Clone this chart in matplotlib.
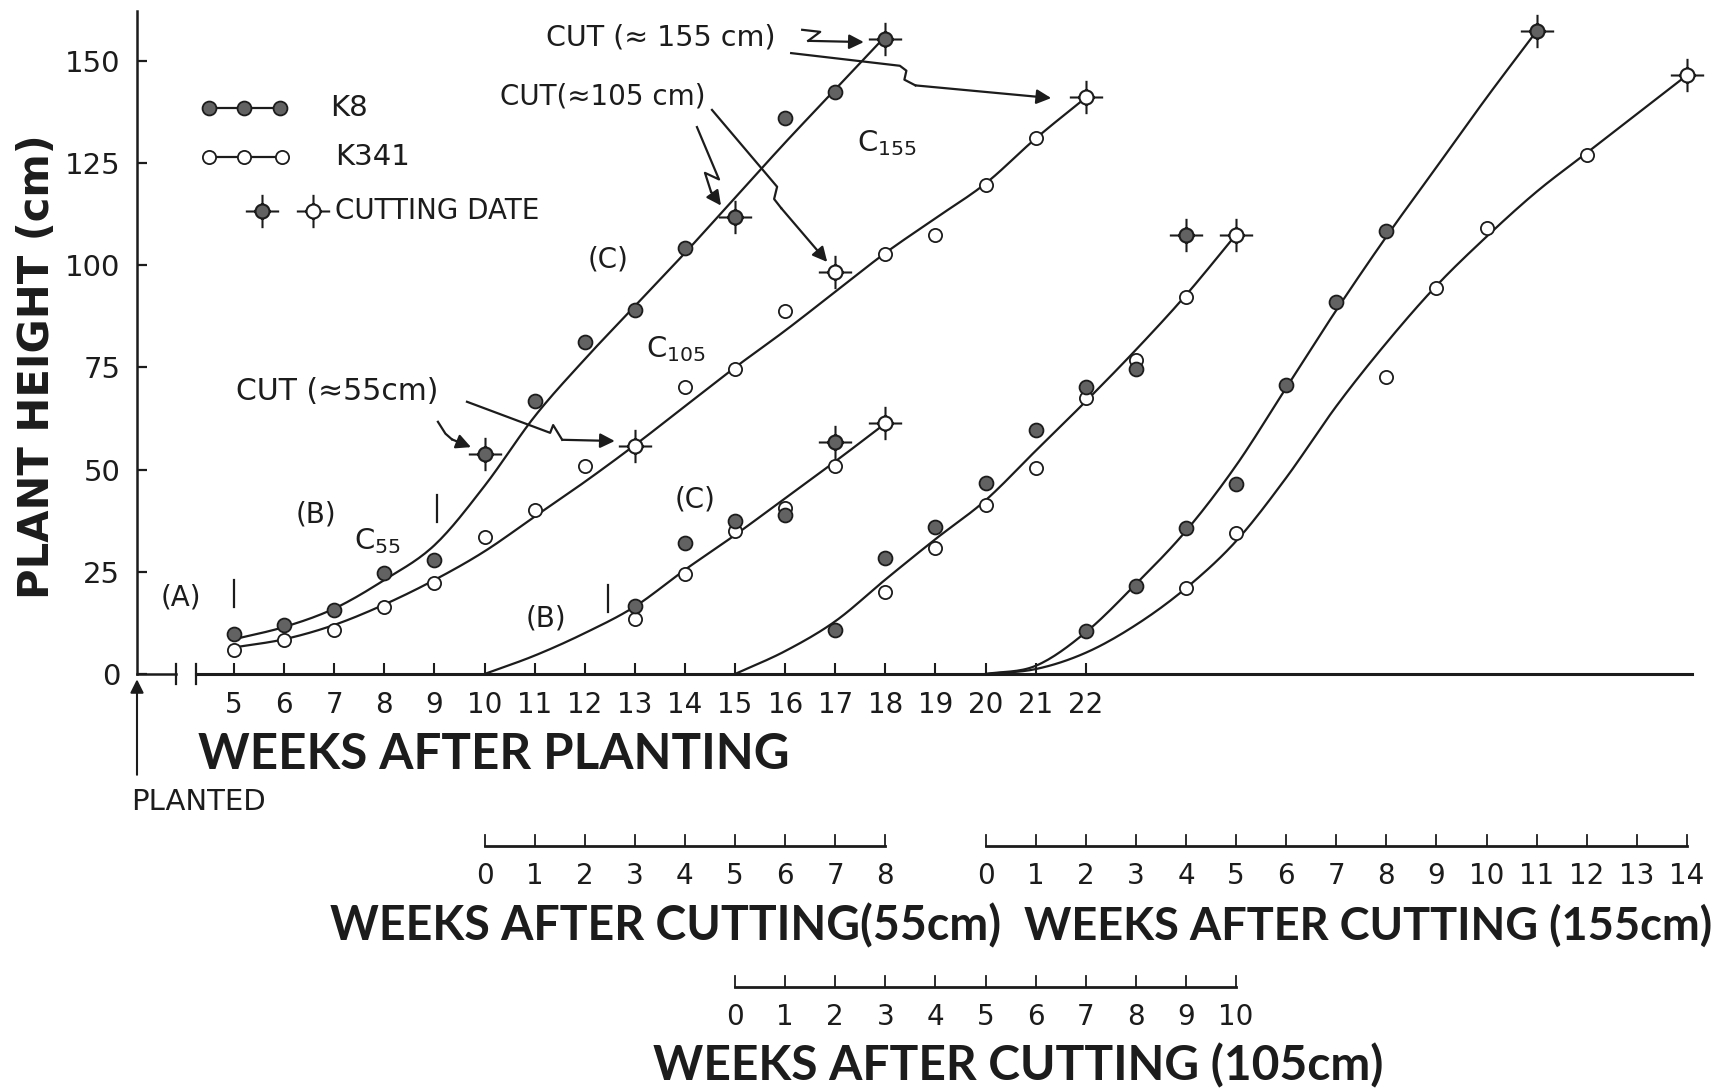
import numpy as np
import matplotlib
matplotlib.use("Agg")
import matplotlib.pyplot as plt
from matplotlib.path import Path

# ---- growth from planting (weeks after planting, height cm) ----
k8_weeks = [5, 6, 7, 8, 9, 11, 12, 13, 14, 16, 17]
k8_height = [9.7, 12.1, 15.6, 24.7, 28.0, 66.9, 81.2, 89.0, 104.3, 136.0, 142.5]
k8_cut_weeks = [10, 15, 18]
k8_cut_height = [53.8, 111.8, 155.4]

k341_weeks = [5, 6, 7, 8, 9, 10, 11, 12, 14, 15, 16, 18, 19, 20, 21]
k341_height = [5.9, 8.3, 10.8, 16.4, 22.3, 33.6, 40.0, 51.0, 70.2, 74.7, 88.7,
               102.7, 107.3, 119.6, 131.2]
k341_cut_weeks = [13, 17, 22]
k341_cut_height = [55.9, 98.4, 141.1]

# hand-fitted curves
k8_fit_weeks = list(range(5, 19))
k8_fit = [8.5, 11.5, 16, 23, 31.5, 46, 63, 77, 90, 103, 116.5, 130, 143, 156]
k341_fit_weeks = list(range(5, 23))
k341_fit = [6.5, 8.5, 12, 17, 23, 30, 38.5, 47, 56, 65.5, 75, 84, 93.5, 103,
            111.5, 120, 131, 141]

# ---- regrowth after cutting at ~55 cm (week 10 = 0) ----
c55_start = 10
c55_k8_wk = [3, 4, 5, 6]
c55_k8 = [16.7, 32.0, 37.4, 39.0]
c55_k8_cut = (7, 56.7)
c55_k341_wk = [3, 4, 5, 6, 7]
c55_k341 = [13.4, 24.5, 35.0, 40.6, 51.0]
c55_k341_cut = (8, 61.3)
c55_fit_wk = list(range(0, 9))
c55_fit = [0, 4.5, 10, 16.5, 25.5, 34, 43, 52, 61.3]

# ---- regrowth after cutting at ~105 cm (week 15 = 0) ----
c105_start = 15
c105_k8_wk = [2, 3, 4, 5, 6, 7, 8]
c105_k8 = [10.8, 28.4, 36.0, 46.7, 59.7, 70.2, 74.7]
c105_k8_cut = (9, 107.5)
c105_k341_wk = [3, 4, 5, 6, 7, 8, 9]
c105_k341 = [20.1, 30.8, 41.3, 50.4, 67.5, 76.9, 92.2]
c105_k341_cut = (10, 107.5)
c105_fit_wk = list(range(0, 11))
c105_fit = [0, 5.6, 12.9, 23.1, 33, 42.5, 54.6, 66.7, 79.3, 92.7, 107.5]

# ---- regrowth after cutting at ~155 cm (week 20 = 0) ----
c155_start = 20
c155_k8_wk = [2, 3, 4, 5, 6, 7, 8]
c155_k8 = [10.5, 21.5, 35.8, 46.5, 70.7, 90.9, 108.3]
c155_k8_cut = (11, 157.3)
c155_k341_wk = [4, 5, 8, 9, 10, 12]
c155_k341 = [21.0, 34.4, 72.6, 94.4, 109.0, 127.0]
c155_k341_cut = (14, 146.5)
c155_k8_fit_wk = list(range(0, 12))
c155_k8_fit = [0, 2, 10.2, 22, 35, 51, 70, 89, 107, 124, 141, 157.3]
c155_k341_fit_wk = list(range(0, 15))
c155_k341_fit = [0, 1.2, 5.2, 12, 21, 32.5, 48, 65.5, 81, 95, 107, 118,
                 127.5, 137, 146.5]

INK = "#1c1c1c"
FILL = "#626262"
TITLE = "Lato"


def smooth(x, y, n=16):
    # Catmull-Rom through the fitted points
    x = np.asarray(x, float)
    y = np.asarray(y, float)
    px = np.concatenate([[2 * x[0] - x[1]], x, [2 * x[-1] - x[-2]]])
    py = np.concatenate([[2 * y[0] - y[1]], y, [2 * y[-1] - y[-2]]])
    t = np.linspace(0, 1, n, endpoint=False)
    ox, oy = [], []
    for i in range(1, len(px) - 2):
        for p, out in ((px, ox), (py, oy)):
            p0, p1, p2, p3 = p[i - 1], p[i], p[i + 1], p[i + 2]
            out.extend(0.5 * (2 * p1 + (-p0 + p2) * t
                              + (2 * p0 - 5 * p1 + 4 * p2 - p3) * t ** 2
                              + (-p0 + 3 * p1 - 3 * p2 + p3) * t ** 3))
    ox.append(x[-1])
    oy.append(y[-1])
    return np.array(ox), np.array(oy)


# circle with four spikes, used for cutting dates
_ring = Path.unit_circle()
_ring = Path(_ring.vertices * 0.42, _ring.codes)
_arms = Path([(0, 0.42), (0, 1), (0, -0.42), (0, -1), (0.42, 0), (1, 0), (-0.42, 0), (-1, 0)],
             [Path.MOVETO, Path.LINETO] * 4)
CUT_MARK = Path.make_compound_path(_ring, _arms)


def dots(ax, x, y, filled, **kw):
    ax.plot(x, y, ls="none", marker="o", ms=10 if filled else 9.5,
            mfc=FILL if filled else "white", mec=INK, mew=1.3,
            zorder=5, clip_on=False, **kw)


def cut(ax, x, y, filled, **kw):
    ax.plot(x, y, ls="none", marker=CUT_MARK, ms=24,
            mfc=FILL if filled else "white", mec=INK, mew=1.5,
            zorder=6, clip_on=False, **kw)


def curve(ax, x, y):
    sx, sy = smooth(x, y)
    ax.plot(sx, sy, color=INK, lw=1.6, zorder=3, clip_on=False)


def arrow(ax, xs, ys):
    ax.plot(xs[:-1], ys[:-1], color=INK, lw=1.6, clip_on=False)
    ax.annotate("", xy=(xs[-1], ys[-1]), xytext=(xs[-2], ys[-2]),
                arrowprops=dict(arrowstyle="-|>", color=INK, lw=1.6,
                                mutation_scale=22, shrinkA=0, shrinkB=0))


fig = plt.figure(figsize=(17.23, 10.92), dpi=100)
fig.patch.set_facecolor("white")
ax = fig.add_axes([137 / 1723, 418 / 1092, 1555 / 1723, 663 / 1092])
x0, x1 = 3.064, 34.1
ax.set_xlim(x0, x1)
ax.set_ylim(0, 162.2)

for s in ("top", "right", "bottom"):
    ax.spines[s].set_visible(False)
ax.spines["left"].set_linewidth(1.8)
ax.spines["left"].set_color(INK)

ax.set_yticks([0, 25, 50, 75, 100, 125, 150])
ax.set_xticks(range(5, 23))
ax.tick_params(axis="y", direction="in", length=7, width=1.6, color=INK,
               labelsize=21, labelcolor=INK, pad=12)
ax.tick_params(axis="x", direction="in", length=0, labelsize=20,
               labelcolor=INK, pad=12)

# broken x axis, with short upward ticks at each week
ax.plot([x0, 3.84], [0, 0], color=INK, lw=1.8, clip_on=False)
ax.plot([4.24, x1], [0, 0], color=INK, lw=2.2, clip_on=False)
for xb in (3.84, 4.24):
    ax.plot([xb, xb], [-2.4, 2.4], color=INK, lw=1.6, clip_on=False)
ax.vlines(ax.get_xticks(), 0, 2.6, color=INK, lw=1.5, zorder=2)

# curves
curve(ax, k8_fit_weeks, k8_fit)
curve(ax, k341_fit_weeks, k341_fit)
curve(ax, [c55_start + w for w in c55_fit_wk], c55_fit)
curve(ax, [c105_start + w for w in c105_fit_wk], c105_fit)
curve(ax, [c155_start + w for w in c155_k8_fit_wk], c155_k8_fit)
curve(ax, [c155_start + w for w in c155_k341_fit_wk], c155_k341_fit)

# observations
dots(ax, k8_weeks, k8_height, True)
dots(ax, k341_weeks, k341_height, False)
cut(ax, k8_cut_weeks, k8_cut_height, True)
cut(ax, k341_cut_weeks, k341_cut_height, False)

for start, k8w, k8v, k8c, k3w, k3v, k3c in (
        (c55_start, c55_k8_wk, c55_k8, c55_k8_cut, c55_k341_wk, c55_k341, c55_k341_cut),
        (c105_start, c105_k8_wk, c105_k8, c105_k8_cut, c105_k341_wk, c105_k341, c105_k341_cut),
        (c155_start, c155_k8_wk, c155_k8, c155_k8_cut, c155_k341_wk, c155_k341, c155_k341_cut)):
    dots(ax, [start + w for w in k3w], k3v, False)
    dots(ax, [start + w for w in k8w], k8v, True)
    cut(ax, [start + k8c[0]], [k8c[1]], True)
    cut(ax, [start + k3c[0]], [k3c[1]], False)

# labels on the plot
txt = dict(color=INK, family="DejaVu Sans")
ax.text(11.23, 155.6, "CUT (≈ 155 cm)", va="center", ha="left", fontsize=20.5, **txt)
ax.text(10.31, 141.2, "CUT(≈105 cm)", va="center", ha="left", fontsize=20, **txt)
ax.text(5.04, 69.0, "CUT (≈55cm)", va="center", ha="left", fontsize=21.5, **txt)
ax.text(17.44, 130.0, r"C$_{\mathregular{155}}$", va="center", ha="left", fontsize=21, color=INK)
ax.text(13.22, 79.5, r"C$_{\mathregular{105}}$", va="center", ha="left", fontsize=21, color=INK)
ax.text(7.40, 32.5, r"C$_{\mathregular{55}}$", va="center", ha="left", fontsize=21, color=INK)
for x, y, s in ((12.47, 101.3, "(C)"), (6.64, 39.1, "(B)"), (3.94, 18.8, "(A)"),
                (14.2, 42.6, "(C)"), (11.23, 13.5, "(B)")):
    ax.text(x, y, s, ha="center", va="center", fontsize=20, **txt)
for x, y in ((9.05, 40.4), (5.0, 19.8), (12.47, 18.4)):
    ax.plot([x, x], [y - 3.3, y + 3.3], color=INK, lw=1.6)

arrow(ax, [16.34, 16.70, 16.46, 17.57], [157.6, 157.1, 154.9, 154.6])
arrow(ax, [16.12, 18.29, 18.42, 18.38, 18.60, 21.31], [151.9, 148.8, 147.6, 145.4, 144.0, 140.9])
arrow(ax, [14.24, 14.68, 14.40, 14.52, 14.72], [133.8, 121.0, 122.6, 118.0, 114.6])
arrow(ax, [14.54, 15.84, 15.78, 15.92, 16.84], [138.0, 119.2, 116.2, 114.0, 100.8])
arrow(ax, [9.07, 9.22, 9.35, 9.73], [61.7, 58.8, 57.4, 55.5])
arrow(ax, [9.65, 11.31, 11.37, 11.55, 12.60], [66.6, 59.0, 60.9, 57.3, 57.0])

# key
key = dict(transform=ax.transAxes, clip_on=False)
ax.plot([0.0463, 0.0688, 0.092], [0.8537] * 3, color=INK, lw=1.6, marker="o", ms=10,
        mfc=FILL, mec=INK, mew=1.3, **key)
ax.plot([0.0463, 0.0688, 0.093], [0.7798] * 3, color=INK, lw=1.6, marker="o", ms=9.5,
        mfc="white", mec=INK, mew=1.3, **key)
ax.plot([0.0804], [0.6983], marker=CUT_MARK, ms=24, mfc=FILL, mec=INK, mew=1.5, **key)
ax.plot([0.1132], [0.6983], marker=CUT_MARK, ms=24, mfc="white", mec=INK, mew=1.5, **key)
ax.text(0.124, 0.8537, "K8", transform=ax.transAxes, va="center", ha="left", fontsize=21, color=INK)
ax.text(0.1273, 0.7798, "K341", transform=ax.transAxes, va="center", ha="left", fontsize=21, color=INK)
ax.text(0.1273, 0.6983, "CUTTING DATE", transform=ax.transAxes, va="center", ha="left",
        fontsize=20, color=INK)

# axis titles
ax.set_ylabel("PLANT HEIGHT (cm)", fontsize=30, fontweight="bold", color=INK,
              family="DejaVu Sans")
ax.yaxis.set_label_coords(-0.051, 0.463)
ax.text(4.28, -0.1207, "WEEKS AFTER PLANTING", transform=ax.get_xaxis_transform(),
        ha="left", va="center", fontsize=35.5, fontweight="bold", color=INK, family=TITLE)
ax.annotate("", xy=(x0, -0.008), xytext=(x0, -0.152), xycoords=ax.get_xaxis_transform(),
            arrowprops=dict(arrowstyle="-|>", color=INK, lw=1.5, mutation_scale=20,
                            shrinkA=0, shrinkB=0))
ax.text(4.30, -0.193, "PLANTED", transform=ax.get_xaxis_transform(), ha="center",
        va="center", fontsize=21, color=INK)

# secondary week scales for the regrowth periods
xt = ax.get_xaxis_transform()
scales = [
    (c55_start, 8, -0.2594, -0.3047, -0.380, "WEEKS AFTER CUTTING(55cm)", 13.61, 33.5),
    (c155_start, 14, -0.2594, -0.3047, -0.380, "WEEKS AFTER CUTTING (155cm)", 27.63, 32.5),
    (c105_start, 10, -0.472, -0.5173, -0.5913, "WEEKS AFTER CUTTING (105cm)", 20.65, 34.5),
]
for start, n, yl, ylab, ytitle, title, xc, size in scales:
    ax.plot([start, start + n], [yl, yl], color=INK, lw=2.0, transform=xt, clip_on=False)
    for k in range(n + 1):
        ax.plot([start + k, start + k], [yl, yl + 0.016], color=INK, lw=1.3,
                transform=xt, clip_on=False)
        ax.text(start + k, ylab, str(k), transform=xt, ha="center", va="center",
                fontsize=20, color=INK)
    ax.text(xc, ytitle, title, transform=xt, ha="center", va="center", fontsize=size,
            fontweight="bold", color=INK, family=TITLE)

fig.savefig("out.png", dpi=100, facecolor="white")
